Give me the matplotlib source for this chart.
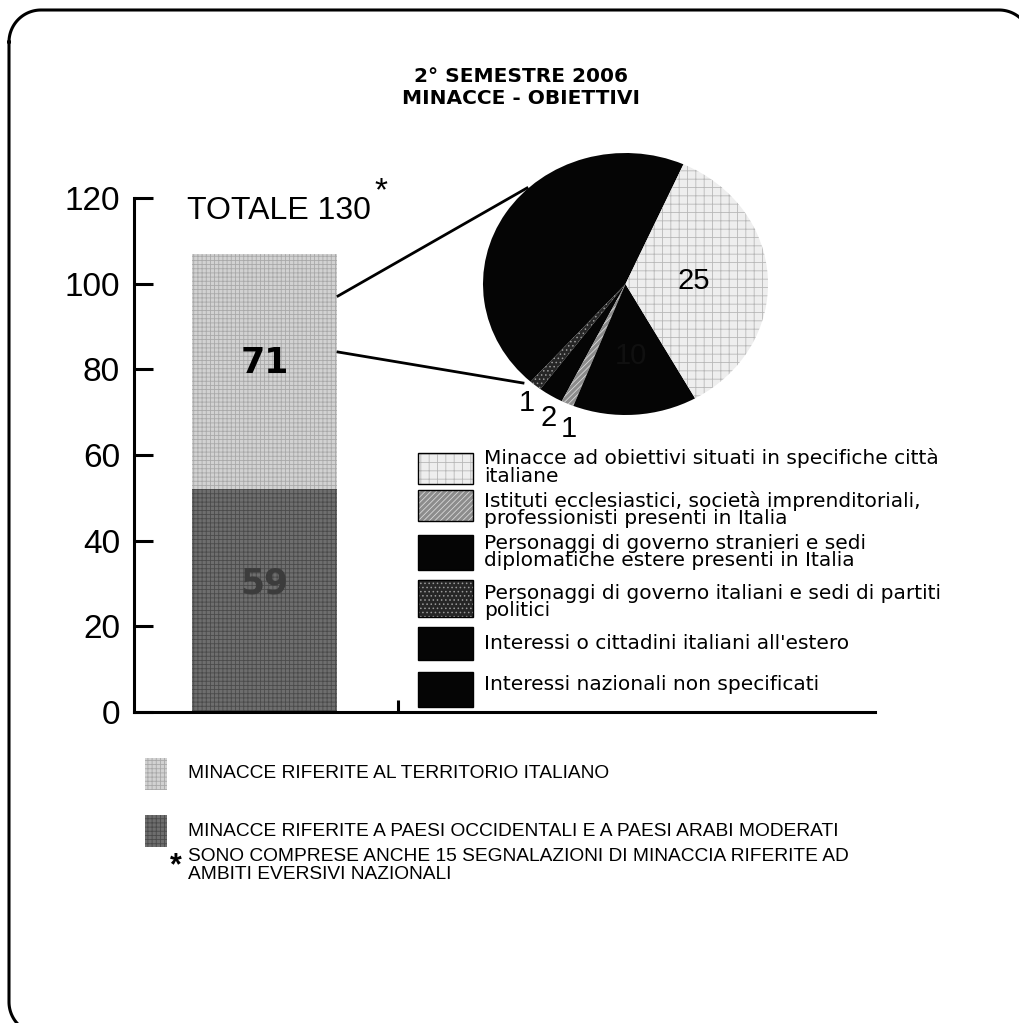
import matplotlib
matplotlib.use("Agg")
import matplotlib.pyplot as plt
import numpy as np
from matplotlib.patches import Rectangle

plt.rcParams['font.family'] = ['Liberation Sans', 'DejaVu Sans']
plt.rcParams['hatch.linewidth'] = 0.6

# data
bar_heights = [52, 55]          # drawn heights of the stacked segments
bar_labels = ['59', '71']
bar_colors = ['#6e6e6e', '#d2d2d2']
bar_hatch_colors = ['#4a4a4a', '#a9a9a9']
total_label = 'TOTALE 130'

pie_values = [32, 1, 2, 1, 10, 25]
pie_labels = ['', '1', '2', '1', '10', '25']
pie_colors = ['#050505', '#262626', '#050505', '#8c8c8c', '#050505', '#eeeeee']
pie_hatch = [None, '....', None, '//////', None, '++']
pie_hatch_colors = ['#050505', '#9a9a9a', '#050505', '#d8d8d8', '#050505', '#b8b8b8']

legend_items = [
    "Minacce ad obiettivi situati in specifiche città\nitaliane",
    "Istituti ecclesiastici, società imprenditoriali,\nprofessionisti presenti in Italia",
    "Personaggi di governo stranieri e sedi\ndiplomatiche estere presenti in Italia",
    "Personaggi di governo italiani e sedi di partiti\npolitici",
    "Interessi o cittadini italiani all'estero",
    "Interessi nazionali non specificati",
]
legend_colors = ['#eeeeee', '#8c8c8c', '#050505', '#262626', '#050505', '#050505']
legend_hatch = ['++', '//////', None, '....', None, None]
legend_hatch_colors = ['#b8b8b8', '#d8d8d8', '#050505', '#9a9a9a', '#050505', '#050505']

bottom_notes = [
    "MINACCE RIFERITE AL TERRITORIO ITALIANO",
    "MINACCE RIFERITE A PAESI OCCIDENTALI E A PAESI ARABI MODERATI",
]
footnote = "SONO COMPRESE ANCHE 15 SEGNALAZIONI DI MINACCIA RIFERITE AD\nAMBITI EVERSIVI NAZIONALI"

W, H = 1020, 1023
fig = plt.figure(figsize=(W / 100, H / 100), dpi=100)

def fx(x):
    return x / W

def fy(y):
    return 1 - y / H

# --- bar chart ---
ax = fig.add_axes([fx(134), fy(712), fx(875) - fx(134), fy(198) - fy(712)])
bottom = 0
for h, c, hc in zip(bar_heights, bar_colors, bar_hatch_colors):
    ax.bar(0.88, h, width=0.98, bottom=bottom, color=c, edgecolor=hc,
           hatch='++++', linewidth=0)
    bottom += h
ax.text(0.88, 30, bar_labels[0], ha='center', va='center', fontsize=25,
        fontweight='bold', color='#3c3c3c', family='DejaVu Sans')
ax.text(0.88, 81.5, bar_labels[1], ha='center', va='center', fontsize=25,
        fontweight='bold', color='black', family='DejaVu Sans')
ax.text(0.36, 117, total_label, ha='left', va='center', fontsize=23)
ax.text(1.62, 121.5, '*', ha='left', va='center', fontsize=24)

ax.set_xlim(0, 5)
ax.set_ylim(0, 120)
ax.set_yticks(range(0, 121, 20))
ax.set_xticks([1.78])
ax.set_xticklabels([])
for s in ['top', 'right']:
    ax.spines[s].set_visible(False)
for s in ['left', 'bottom']:
    ax.spines[s].set_linewidth(2.2)
ax.tick_params(axis='y', direction='in', length=14, width=2.2, labelsize=24, pad=10)
ax.tick_params(axis='x', direction='in', length=9, width=2.2)
ax.patch.set_alpha(0)

# --- pie ---
pax = fig.add_axes([fx(483), fy(415), fx(768) - fx(483), fy(153) - fy(415)])
wedges, _ = pax.pie(pie_values, colors=pie_colors, startangle=66,
                    counterclock=True, radius=1,
                    wedgeprops=dict(linewidth=0))
for w, hp, hc in zip(wedges, pie_hatch, pie_hatch_colors):
    if hp:
        w.set_hatch(hp)
        w.set_edgecolor(hc)
pax.set_aspect('auto')
pax.set_xlim(-1, 1)
pax.set_ylim(-1, 1)
pax.axis('off')

# small slices are labelled outside the rim, the big ones inside
outside_pos = [(-0.69, -0.91), (-0.54, -1.02), (-0.40, -1.11)]
k = 0
for w, lab in zip(wedges, pie_labels):
    if not lab:
        continue
    mid = np.deg2rad((w.theta1 + w.theta2) / 2)
    if lab == '25':
        pax.text(0.48 * np.cos(mid), 0.48 * np.sin(mid), lab, ha='center',
                 va='center', fontsize=21, color='black')
    elif lab == '10':
        pax.text(0.55 * np.cos(mid), 0.55 * np.sin(mid), lab, ha='center',
                 va='center', fontsize=21, color='#101010')
    else:
        pax.text(*outside_pos[k], lab, ha='center', va='center', fontsize=21,
                 color='black', clip_on=False)
        k += 1

# --- overlay in pixel coordinates ---
ov = fig.add_axes([0, 0, 1, 1])
ov.set_xlim(0, W)
ov.set_ylim(H, 0)
ov.axis('off')
ov.patch.set_alpha(0)

# rounded frame, running off the page on the right and bottom
L, T, R, B, rad = 9, 10, 1031, 1034, 32
t = np.linspace(0, np.pi / 2, 30)
fx_pts = np.concatenate([
    L + rad - rad * np.cos(t), R - rad + rad * np.sin(t),
    R - rad + rad * np.cos(t), L + rad - rad * np.sin(t), [L]])
fy_pts = np.concatenate([
    T + rad - rad * np.sin(t), T + rad - rad * np.cos(t),
    B - rad + rad * np.sin(t), B - rad + rad * np.cos(t), [T + rad]])
ov.plot(fx_pts, fy_pts, color='black', linewidth=2.2, clip_on=False)

ov.text(521, 77, "2° SEMESTRE 2006", ha='center', va='center', fontsize=14.5,
        fontweight='bold', family='DejaVu Sans')
ov.text(521, 99, "MINACCE - OBIETTIVI", ha='center', va='center', fontsize=14.5,
        fontweight='bold', family='DejaVu Sans')

ov.plot([338, 527], [296, 188], color='black', linewidth=2)
ov.plot([338, 523], [352, 383], color='black', linewidth=2)

box_y = [(453, 484), (490, 521), (535, 570), (580, 617), (627, 660), (672, 707)]
text_y = [457, 500, 543, 593, 643, 684]
for (y0, y1), ty, lab, c, hp, hc in zip(box_y, text_y, legend_items,
                                         legend_colors, legend_hatch,
                                         legend_hatch_colors):
    ov.add_patch(Rectangle((418, y0), 55, y1 - y0, facecolor=c, edgecolor=hc,
                           hatch=hp, linewidth=0))
    ov.add_patch(Rectangle((418, y0), 55, y1 - y0, fill=False,
                           edgecolor='black', linewidth=1))
    ov.text(484, ty - 9, lab, ha='left', va='top', fontsize=14.5,
            linespacing=0.9, family='DejaVu Sans')

# bottom notes
ov.add_patch(Rectangle((145, 758), 22, 32, facecolor=bar_colors[1],
                       edgecolor=bar_hatch_colors[1], hatch='++++', linewidth=0))
ov.add_patch(Rectangle((145, 815), 22, 32, facecolor=bar_colors[0],
                       edgecolor=bar_hatch_colors[0], hatch='++++', linewidth=0))
ov.text(188, 774, bottom_notes[0], ha='left', va='center', fontsize=13.8)
ov.text(188, 831, bottom_notes[1], ha='left', va='center', fontsize=13.8)
ov.text(176, 866, '*', ha='center', va='center', fontsize=22, fontweight='bold')
ov.text(188, 848, footnote, ha='left', va='top', fontsize=13.8, linespacing=1.05)

fig.savefig('out.png', dpi=100)
